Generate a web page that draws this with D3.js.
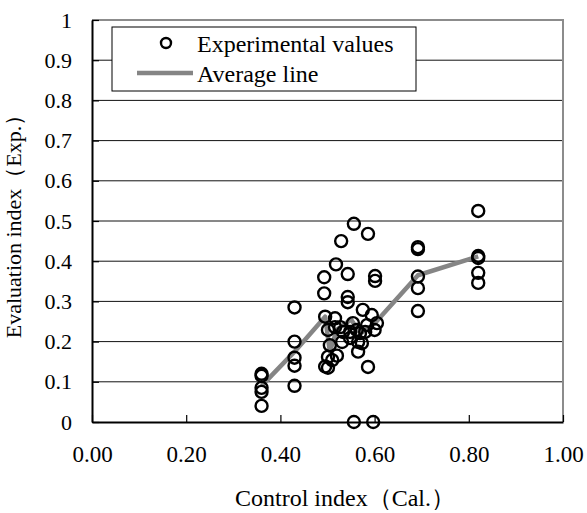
<!DOCTYPE html>
<html>
<head>
<meta charset="utf-8">
<script src="https://cdn.jsdelivr.net/npm/d3@7"></script>
<style>
  body { margin: 0; background: #fff; }
  svg text { font-family: "Liberation Serif", "Times New Roman", Tinos, "DejaVu Serif", serif; fill: #000; }
</style>
</head>
<body>
<svg id="drawing_region"></svg>
<script>
// experimental values (Cal. index, Exp. index)
const expX = [
    0.36, 0.36, 0.36, 0.36, 0.36,
    0.43, 0.43, 0.43, 0.43, 0.43,
    0.556, 0.529, 0.586, 0.518, 0.543, 0.601, 0.601, 0.493, 0.493, 0.543,
    0.543, 0.495, 0.516, 0.575, 0.594, 0.605, 0.600, 0.501, 0.516, 0.527,
    0.533, 0.548, 0.554, 0.562, 0.569, 0.580, 0.584, 0.531, 0.548, 0.565,
    0.573, 0.505, 0.501, 0.510, 0.495, 0.501, 0.586, 0.565, 0.520, 0.556,
    0.597,
    0.692, 0.692, 0.692, 0.692, 0.692,
    0.82, 0.82, 0.82, 0.82, 0.82
];
const expY = [
    0.12, 0.115, 0.085, 0.075, 0.04,
    0.285, 0.20, 0.16, 0.14, 0.09,
    0.493, 0.450, 0.468, 0.392, 0.368, 0.363, 0.351, 0.360, 0.320, 0.311,
    0.298, 0.262, 0.258, 0.279, 0.266, 0.246, 0.229, 0.229, 0.236, 0.236,
    0.224, 0.224, 0.246, 0.229, 0.221, 0.224, 0.241, 0.199, 0.209, 0.199,
    0.196, 0.191, 0.162, 0.154, 0.138, 0.135, 0.137, 0.175, 0.165, 0.0,
    0.0,
    0.430, 0.435, 0.362, 0.333, 0.276,
    0.525, 0.413, 0.408, 0.371, 0.346
];

// average line
const avgX = [0.36, 0.43, 0.495, 0.505, 0.52, 0.55, 0.57, 0.60, 0.692, 0.82];
const avgY = [0.09, 0.175, 0.262, 0.175, 0.23, 0.255, 0.22, 0.245, 0.365, 0.412];

const xTicks = [0, 0.2, 0.4, 0.6, 0.8, 1.0];
const yTicks = [0, 0.1, 0.2, 0.3, 0.4, 0.5, 0.6, 0.7, 0.8, 0.9, 1];

const legendLabels = ["Experimental values", "Average line"];
const xTitle = "Control index（Cal.）";
const yTitle = "Evaluation index（Exp.）";

const serif = '"Liberation Serif", "Times New Roman", Tinos, "DejaVu Serif", serif';

class ScatterChart {

    constructor(config) {
        this.config = config;
        this.points = expX.map((x, i) => ({ x: x, y: expY[i] }));
        this.avg = avgX.map((x, i) => ({ x: x, y: avgY[i] }));
        this.init();
    }

    init() {
        let self = this;
        let margin = self.config.margin;

        self.svg = d3.select(self.config.parent)
            .attr('width', self.config.width)
            .attr('height', self.config.height);

        self.inner_width = self.config.width - margin.left - margin.right;
        self.inner_height = self.config.height - margin.top - margin.bottom;

        self.chart = self.svg.append('g')
            .attr('transform', `translate(${margin.left}, ${margin.top})`);

        self.xscale = d3.scaleLinear()
            .domain([0, 1])
            .range([0, self.inner_width]);

        self.yscale = d3.scaleLinear()
            .domain([0, 1])
            .range([self.inner_height, 0]);
    }

    render() {
        let self = this;
        let W = self.inner_width, H = self.inner_height;

        // grid lines
        self.chart.append('g')
            .selectAll('line')
            .data(yTicks.filter(d => d > 0 && d < 1))
            .join('line')
            .attr('x1', 0).attr('x2', W)
            .attr('y1', d => self.yscale(d)).attr('y2', d => self.yscale(d))
            .attr('stroke', '#111')
            .attr('stroke-width', 1);

        // plot frame (top and right)
        self.chart.append('path')
            .attr('d', `M0,0H${W}V${H}`)
            .attr('fill', 'none')
            .attr('stroke', '#8c8c8c')
            .attr('stroke-width', 2);

        // axes, ticks inside
        let xaxis = d3.axisBottom(self.xscale)
            .tickValues(xTicks)
            .tickSize(-7)
            .tickSizeOuter(0)
            .tickPadding(24)
            .tickFormat(d3.format('.2f'));

        let yaxis = d3.axisLeft(self.yscale)
            .tickValues(yTicks)
            .tickSize(-7)
            .tickSizeOuter(0)
            .tickPadding(20)
            .tickFormat(d => d3.format('')(+d.toFixed(1)));

        let xg = self.chart.append('g')
            .attr('transform', `translate(0, ${H})`)
            .call(xaxis);
        let yg = self.chart.append('g')
            .call(yaxis);

        [xg, yg].forEach(g => {
            g.attr('font-family', serif);
            g.select('.domain').attr('stroke', '#000').attr('stroke-width', 2);
            g.selectAll('.tick line').attr('stroke', '#000').attr('stroke-width', 1.2);
            g.selectAll('.tick text')
                .attr('font-size', 22)
                .style('font-family', serif)
                .attr('fill', '#000');
        });
        xg.selectAll('.tick text').attr('dy', '0.71em').attr('font-size', 23);

        // average line
        let line = d3.line()
            .x(d => self.xscale(d.x))
            .y(d => self.yscale(d.y));

        self.chart.append('path')
            .attr('d', line(self.avg))
            .attr('fill', 'none')
            .attr('stroke', '#858585')
            .attr('stroke-width', 4.5)
            .attr('stroke-linejoin', 'round');

        // experimental points
        self.chart.append('g')
            .selectAll('circle')
            .data(self.points)
            .join('circle')
            .attr('cx', d => self.xscale(d.x))
            .attr('cy', d => self.yscale(d.y))
            .attr('r', 6)
            .attr('fill', 'none')
            .attr('stroke', '#000')
            .attr('stroke-width', 2.4);

        // legend
        let lg = self.chart.append('g')
            .attr('transform', 'translate(20, 7)');
        lg.append('rect')
            .attr('width', 304).attr('height', 64)
            .attr('fill', '#fff')
            .attr('stroke', '#000')
            .attr('stroke-width', 1);
        lg.append('circle')
            .attr('cx', 54).attr('cy', 16)
            .attr('r', 5)
            .attr('fill', 'none')
            .attr('stroke', '#000')
            .attr('stroke-width', 2.4);
        lg.append('line')
            .attr('x1', 25).attr('x2', 81)
            .attr('y1', 46).attr('y2', 46)
            .attr('stroke', '#858585')
            .attr('stroke-width', 4.5);
        lg.selectAll('text.leg')
            .data(legendLabels)
            .join('text')
            .attr('class', 'leg')
            .attr('x', 85)
            .attr('y', (d, i) => 25 + i * 30)
            .attr('font-size', 24)
            .style('font-family', serif)
            .text(d => d);

        // axis titles
        self.svg.append('text')
            .attr('x', 345)
            .attr('y', 506)
            .attr('text-anchor', 'middle')
            .attr('font-size', 24)
            .style('font-family', serif)
            .text(xTitle);

        self.svg.append('text')
            .attr('transform', `translate(21, ${self.config.margin.top + H / 2}) rotate(-90)`)
            .attr('text-anchor', 'middle')
            .attr('font-size', 22)
            .style('font-family', serif)
            .text(yTitle);
    }
}

let chart = new ScatterChart({
    parent: '#drawing_region',
    width: 587,
    height: 513,
    margin: { top: 20, right: 24, bottom: 91, left: 92 }
});
chart.render();
</script>
</body>
</html>
